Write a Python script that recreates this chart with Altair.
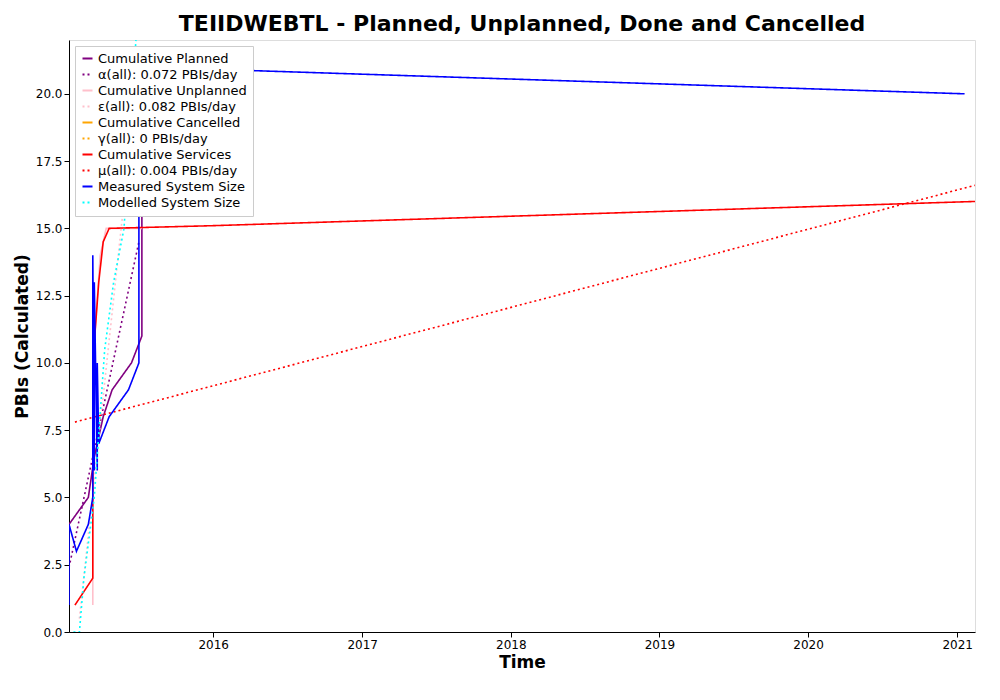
import altair as alt
import pandas as pd

# x values are decimal years
planned_x = [2015.03, 2015.16, 2015.20, 2015.26, 2015.32, 2015.45, 2015.52, 2015.52]
planned_y = [4, 5, 6.5, 8, 9, 10, 11, 21]
alpha_x = [2015.03, 2015.50]
alpha_y = [2.4, 14.5]
unpl_x = [2015.19, 2015.19, 2015.24, 2015.28, 2015.52]
unpl_y = [1, 10, 14, 15, 15]
eps_x = [2015.10, 2015.40]
eps_y = [0.5, 16]
serv_x = [2015.07, 2015.19, 2015.19, 2015.23, 2015.26, 2015.30, 2016.0, 2021.12]
serv_y = [1, 2, 10, 13, 14.5, 15, 15.1, 16]
mu_x = [2015.07, 2021.12]
mu_y = [7.8, 16.6]
meas_x = [2015.03, 2015.03, 2015.08, 2015.16, 2015.19, 2015.19, 2015.20, 2015.20,
          2015.22, 2015.22, 2015.23, 2015.30, 2015.43, 2015.50, 2015.50, 2021.05]
meas_y = [1, 4, 3, 4, 5, 14, 6, 13, 6, 10, 7, 8, 9, 10, 21, 20]
model_x = [2015.06, 2015.10, 2015.13, 2015.20, 2015.27, 2015.33, 2015.40, 2015.48]
model_y = [0, 0, 2, 5, 10.5, 13, 15, 22]

names = ["Cumulative Planned", "α(all): 0.072 PBIs/day", "Cumulative Unplanned",
         "ε(all): 0.082 PBIs/day", "Cumulative Cancelled", "γ(all): 0 PBIs/day",
         "Cumulative Services", "μ(all): 0.004 PBIs/day", "Measured System Size",
         "Modelled System Size"]
colors = ["purple", "purple", "pink", "pink", "orange", "orange", "red", "red", "blue", "cyan"]
dashes = [[1, 0], [2, 3], [1, 0], [2, 3], [1, 0], [2, 3], [1, 0], [2, 3], [1, 0], [2, 3]]

series = {
    names[0]: (planned_x, planned_y), names[1]: (alpha_x, alpha_y),
    names[2]: (unpl_x, unpl_y), names[3]: (eps_x, eps_y),
    names[6]: (serv_x, serv_y), names[7]: (mu_x, mu_y),
    names[8]: (meas_x, meas_y), names[9]: (model_x, model_y),
}


def to_date(v):
    y = int(v)
    return pd.Timestamp(year=y, month=1, day=1) + pd.Timedelta(days=(v - y) * 365.25)


rows = []
for s, (xs, ys) in series.items():
    for i, (a, b) in enumerate(zip(xs, ys)):
        rows.append({"series": s, "t": to_date(a), "v": b, "i": i})
df = pd.DataFrame(rows)

chart = alt.Chart(df).mark_line(strokeWidth=1.6, clip=True).encode(
    x=alt.X("t:T", title="Time",
            scale=alt.Scale(domain=[to_date(2015.03).isoformat(), to_date(2021.12).isoformat()]),
            axis=alt.Axis(format="%Y", tickCount="year", grid=False, titleFontSize=17,
                          labelFontSize=12, labelColor="black", tickColor="black", domainColor="black")),
    y=alt.Y("v:Q", title="PBIs (Calculated)", scale=alt.Scale(domain=[0, 22], nice=False),
            axis=alt.Axis(values=[0, 2.5, 5, 7.5, 10, 12.5, 15, 17.5, 20], format=".1f", grid=False,
                          titleFontSize=17, labelFontSize=12, labelColor="black", tickColor="black",
                          domainColor="black")),
    color=alt.Color("series:N", scale=alt.Scale(domain=names, range=colors),
                    legend=alt.Legend(title=None, orient="top-left", symbolType="stroke",
                                      fillColor="white", strokeColor="#ccc", padding=6, offset=6,
                                      labelFontSize=13, symbolStrokeWidth=2)),
    strokeDash=alt.StrokeDash("series:N", scale=alt.Scale(domain=names, range=dashes), legend=None),
    order="i:Q",
).properties(
    width=906, height=592,
    title=alt.Title("TEIIDWEBTL - Planned, Unplanned, Done  and Cancelled", fontSize=22),
).configure_view(stroke="black").configure(font="DejaVu Sans")

chart.save("out.html", embed_options={"renderer": "svg", "actions": False})
